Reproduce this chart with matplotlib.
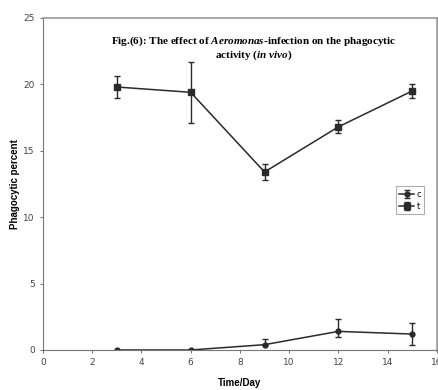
import numpy as np
import matplotlib
matplotlib.use("Agg")
import matplotlib.pyplot as plt

# data
days = [3, 6, 9, 12, 15]
c_vals = [0.0, 0.0, 0.4, 1.4, 1.2]
c_err_low = [0.0, 0.0, 0.0, 0.45, 0.85]
c_err_high = [0.0, 0.0, 0.4, 0.9, 0.8]
t_vals = [19.8, 19.4, 13.4, 16.8, 19.5]
t_err = [0.8, 2.3, 0.6, 0.5, 0.5]
series_names = ["c", "t"]

plt.rcParams['mathtext.fontset'] = 'custom'
plt.rcParams['mathtext.it'] = 'Liberation Serif:italic:bold'
plt.rcParams['mathtext.rm'] = 'Liberation Serif:bold'

fig = plt.figure(figsize=(4.39, 3.90), dpi=100)
ax = fig.add_axes([0.098, 0.1026, 0.897, 0.8514])

line_col = '#2a2a2a'
ax.errorbar(days, c_vals, yerr=[c_err_low, c_err_high], color=line_col, lw=1.1,
            marker='o', ms=3.5, capsize=2.5, elinewidth=1.0, capthick=1.0,
            label=series_names[0])
ax.errorbar(days, t_vals, yerr=t_err, color=line_col, lw=1.1,
            marker='s', ms=5, capsize=2.5, elinewidth=1.0, capthick=1.0,
            label=series_names[1])

ax.set_xlim(0, 16)
ax.set_ylim(0, 25)
ax.set_xticks(np.arange(0, 17, 2))
ax.set_yticks(np.arange(0, 26, 5))
ax.tick_params(labelsize=6.5, length=2.5, width=0.6, colors='#555555',
               labelcolor='#444444')
for s in ['left', 'bottom']:
    ax.spines[s].set_color('#777777')
    ax.spines[s].set_linewidth(0.8)
ax.spines['top'].set_color('#999999')
ax.spines['top'].set_linewidth(1.2)
ax.spines['right'].set_color('#999999')
ax.spines['right'].set_linewidth(1.8)

ax.set_xlabel('Time/Day', fontsize=7, fontweight='bold',
              family='Liberation Sans', labelpad=8)
ax.set_ylabel('Phagocytic percent', fontsize=7, fontweight='bold',
              family='Liberation Sans', labelpad=2)

ax.text(0.535, 0.95,
        "Fig.(6): The effect of $\\mathit{Aeromonas}$-infection on the phagocytic\n"
        "activity ($\\mathit{in\\ vivo}$)",
        transform=ax.transAxes, ha='center', va='top', fontsize=8,
        family='Liberation Serif', fontweight='bold', linespacing=1.1)

leg = ax.legend(loc='upper left', bbox_to_anchor=(0.885, 0.505), fontsize=6,
                frameon=True, fancybox=False, handlelength=1.8,
                handletextpad=0.3, borderpad=0.4, labelspacing=0.4)
leg.get_frame().set_edgecolor('#999999')
leg.get_frame().set_linewidth(0.8)

fig.savefig('out.png', dpi=100)
